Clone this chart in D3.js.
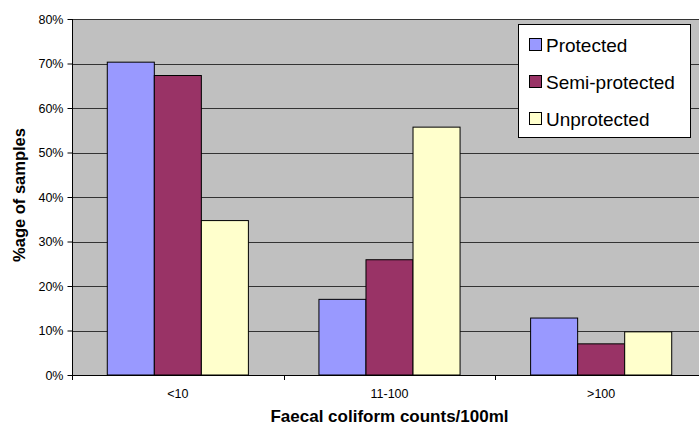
<!DOCTYPE html>
<html><head><meta charset="utf-8">
<script src="https://cdn.jsdelivr.net/npm/d3@7"></script>
<style>body{margin:0;background:#fff}svg{display:block;font-family:Arial,"Liberation Sans",sans-serif}</style>
</head><body><svg id="c" width="699" height="425"></svg>
<script>
const categories = ["<10", "11-100", ">100"];
const seriesNames = ["Protected", "Semi-protected", "Unprotected"];
const protectedVals = [70.3, 17.0, 12.8];
const semiVals = [67.3, 25.9, 7.0];
const unprotVals = [34.7, 55.7, 9.7];
const yTicks = [0, 10, 20, 30, 40, 50, 60, 70, 80];
const colors = ["#9999FF", "#993366", "#FFFFCC"];
const seriesVals = [protectedVals, semiVals, unprotVals];

const svg = d3.select("#c");
const L = 72, R = 707, T = 19, B = 375;
const x = d3.scaleBand().domain(categories).range([L, R]).paddingInner(0).paddingOuter(0);
const xs = d3.scaleBand().domain(seriesNames).range([0, x.bandwidth()]).paddingInner(0).paddingOuter(0.75);
const y = d3.scaleLinear().domain([0, 80]).range([B, T]);

svg.append("rect").attr("x", L).attr("y", T).attr("width", R - L).attr("height", B - T).attr("fill", "#C0C0C0");
// gridlines
svg.append("g").selectAll("line").data(yTicks.slice(1)).join("line")
  .attr("x1", L).attr("x2", R).attr("y1", d => Math.round(y(d)) + 0.5).attr("y2", d => Math.round(y(d)) + 0.5)
  .attr("stroke", "#333").attr("stroke-width", 1);

// bars
categories.forEach((c, ci) => {
  seriesNames.forEach((s, si) => {
    const v = seriesVals[si][ci];
    svg.append("rect")
      .attr("x", x(c) + xs(s)).attr("y", y(v))
      .attr("width", xs.bandwidth()).attr("height", y(0) - y(v))
      .attr("fill", colors[si]).attr("stroke", "#000").attr("stroke-width", 1);
  });
});

// y axis
const yAxis = d3.axisLeft(y).tickValues(yTicks).tickFormat(d => d + "%").tickSize(5).tickPadding(4);
const gy = svg.append("g").attr("transform", `translate(${L + 0.5},0)`).call(yAxis);
gy.attr("font-size", null).attr("font-family", null);
gy.select(".domain").attr("stroke", "#000").attr("d", `M0,${T}V${B}`);
gy.selectAll(".tick line").attr("stroke", "#000");
gy.selectAll("text").style("font-size", "12.5px").attr("fill", "#000");

// x axis
const xAxis = d3.axisBottom(x).tickSize(0).tickPadding(14);
const gx = svg.append("g").attr("transform", `translate(0,${B + 0.5})`).call(xAxis);
gx.attr("font-size", null).attr("font-family", null);
gx.select(".domain").attr("stroke", "#000").attr("d", `M${L},0H${R}`);
gx.selectAll("text").style("font-size", "12.5px").attr("fill", "#000");
// category separators ticks
svg.append("g").selectAll("line").data(categories).join("line")
  .attr("x1", d => Math.round(x(d)) + 0.5).attr("x2", d => Math.round(x(d)) + 0.5)
  .attr("y1", B).attr("y2", B + 5).attr("stroke", "#000");

// titles
svg.append("text").attr("x", (L + R) / 2).attr("y", 422).attr("text-anchor", "middle")
  .style("font-size", "17px").attr("font-weight", "bold").text("Faecal coliform counts/100ml");
svg.append("text").attr("transform", `translate(25,${(T + B) / 2 - 2}) rotate(-90)`).attr("text-anchor", "middle")
  .style("font-size", "16.5px").attr("font-weight", "bold").text("%age of samples");

// legend
const lg = svg.append("g");
lg.append("rect").attr("x", 518.5).attr("y", 24.5).attr("width", 172).attr("height", 113)
  .attr("fill", "#fff").attr("stroke", "#000").attr("stroke-width", 1);
seriesNames.forEach((s, i) => {
  const cy = 45 + i * 37;
  lg.append("rect").attr("x", 529.5).attr("y", cy - 6.5).attr("width", 12).attr("height", 12)
    .attr("fill", colors[i]).attr("stroke", "#000");
  lg.append("text").attr("x", 546).attr("y", cy + 6.5).style("font-size", "19px").text(s);
});
</script></body></html>
